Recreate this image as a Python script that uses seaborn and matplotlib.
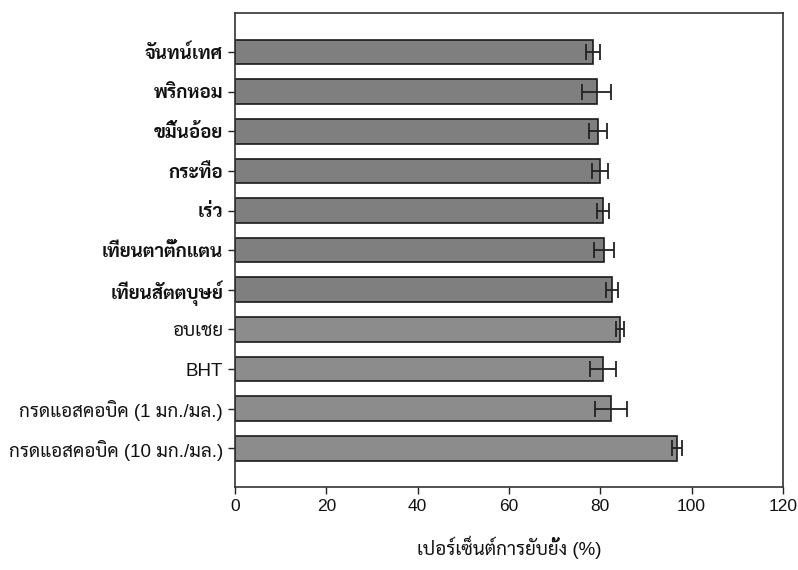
import matplotlib
matplotlib.use("Agg")
import matplotlib.pyplot as plt
from matplotlib import font_manager
from matplotlib.ft2font import FT2Font
import seaborn as sns
import pandas as pd

categories = [
    "จันทน์เทศ",
    "พริกหอม",
    "ขมิ้นอ้อย",
    "กระทือ",
    "เร่ว",
    "เทียนตาตั๊กแตน",
    "เทียนสัตตบุษย์",
    "อบเชย",
    "BHT",
    "กรดแอสคอบิค (1 มก./มล.)",
    "กรดแอสคอบิค (10 มก./มล.)",
]
inhibition = [78.4, 79.2, 79.5, 80.0, 80.6, 80.8, 82.5, 84.3, 80.6, 82.3, 96.8]
errors = [1.6, 3.1, 2.0, 1.8, 1.4, 2.2, 1.3, 0.8, 2.8, 3.5, 1.1]
groups = ["extract"] * 7 + ["reference"] * 4
x_ticks = [0, 20, 40, 60, 80, 100, 120]
x_label = "เปอร์เซ็นต์การยับยั้ง (%)"


def thai_family():
    """Pick an installed family that covers Thai script, preferably with a static bold face."""
    families = {}
    for path in font_manager.findSystemFonts():
        try:
            f = FT2Font(path)
            if 0x0E01 in f.get_charmap():
                font_manager.fontManager.addfont(path)
                families.setdefault(f.family_name, set()).add(f.style_name)
        except Exception:
            continue
    preferred = ["Noto Sans Thai", "Noto Sans Thai Looped", "Sarabun", "IBM Plex Sans Thai",
                 "Krub", "Noto Sans Thai UI", "Prompt"]
    for name in preferred:
        if name in families and "Bold" in families[name]:
            return name
    for name in preferred:
        if name in families:
            return name
    return next(iter(families), "DejaVu Sans")


sns.set_theme(style="white")
THAI = thai_family()
plt.rcParams["font.family"] = ["Liberation Sans", THAI, "DejaVu Sans"]

df = pd.DataFrame({"name": categories, "value": inhibition, "err": errors, "group": groups})

fig = plt.figure(figsize=(7.98, 5.70), dpi=100)
ax = fig.add_axes([0.2945, 0.146, 0.981 - 0.2945, 0.977 - 0.146])

sns.barplot(
    data=df, x="value", y="name", hue="group",
    palette={"extract": "#7f7f7f", "reference": "#8c8c8c"},
    dodge=False, width=0.62, edgecolor="#1a1a1a", linewidth=1.2,
    errorbar=None, legend=False, ax=ax,
)
ax.errorbar(df["value"], range(len(df)), xerr=df["err"], fmt="none",
            ecolor="#222222", elinewidth=1.3, capsize=6, capthick=1.3)

ax.set_xlim(0, 120)
ax.set_ylim(len(df) - 0.03, -0.98)
ax.set_xticks(x_ticks)
ax.set_xlabel(x_label, fontsize=13.5, labelpad=16, color="#111111")
ax.set_ylabel("")
ax.tick_params(axis="x", which="major", length=5, width=1, color="#222222",
               direction="out", labelsize=12.5, bottom=True, labelcolor="#111111")
ax.tick_params(axis="y", which="major", length=5, width=1, color="#222222",
               direction="out", labelsize=13.5, left=True, labelcolor="#111111")
for i, lab in enumerate(ax.get_yticklabels()):
    if i < 7:
        lab.set_fontweight("bold")
for s in ax.spines.values():
    s.set_color("#333333")
    s.set_linewidth(1.2)

fig.savefig("out.png", dpi=100)
